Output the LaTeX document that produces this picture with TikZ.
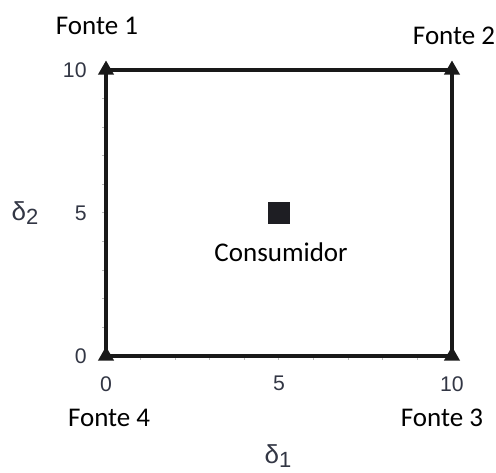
\documentclass[tikz,border=0pt]{standalone}
\usepackage{fontspec}
\usepackage{tikz}
\usetikzlibrary{arrows.meta,positioning,shapes.geometric}
\usepackage{xcolor}
\newfontfamily\labfont{Carlito}
\newfontfamily\numfont{Liberation Sans}
\definecolor{ticklab}{RGB}{50,54,68}
\definecolor{markfill}{RGB}{30,30,35}

\begin{document}
\begin{tikzpicture}[x=17.3pt,y=14.3pt,>=Stealth,
    axisline/.style={line width=1.6pt,black!90},
    tickmark/.style={gray!55,line width=0.5pt},
    cornermark/.style={regular polygon,regular polygon sides=3,fill=black!90,
      inner sep=0pt,minimum size=9.4pt},
    numlab/.style={font=\numfont\fontsize{10.6}{12}\selectfont,text=ticklab,inner sep=0pt},
    fontelab/.style={font=\labfont\fontsize{13.5}{16}\selectfont},
    deltalab/.style={font=\numfont\fontsize{13}{15}\selectfont,text=ticklab}]
  \useasboundingbox (-3.064,-4.091) rectangle (11.272,12.448);

  % corners of the square
  \coordinate (bl) at (0,0);
  \coordinate (tl) at (0,10);
  \coordinate (tr) at (10,10);
  \coordinate (br) at (10,0);

  \foreach \k in {1,...,9} {
    \draw[tickmark] (-0.12,\k) -- (0,\k);
    \draw[tickmark] (\k,-0.14) -- (\k,0);
  }
  \draw[axisline] (bl) -- (tl) -- (tr) -- (br) -- cycle;

  \node[cornermark] (m1) at (tl) {};
  \node[cornermark] (m2) at (tr) {};
  \node[cornermark] (m3) at (br) {};
  \node[cornermark] (m4) at (bl) {};

  % tick labels
  \foreach \v in {0,5,10} {
    \node[numlab,anchor=east] (y\v) at (-0.55,\v) {\v};
    \node[numlab,anchor=north] (x\v) at (\v,-0.7) {\v};
  }
  \node[deltalab] (d2) at (-2.34,5) {δ\raisebox{-0.35ex}{\fontsize{11}{13}\selectfont 2}};
  \node[deltalab] (d1) at (4.97,-3.5) {δ\raisebox{-0.35ex}{\fontsize{11}{13}\selectfont 1}};

  % sources and consumer
  \node[fontelab] (f1) at (-0.26,11.54) {Fonte 1};
  \node[fontelab] (f2) at (10.06,11.19) {Fonte 2};
  \node[fontelab] (f3) at (9.71,-2.17) {Fonte 3};
  \node[fontelab] (f4) at (0.09,-2.17) {Fonte 4};

  \node[fill=markfill,inner sep=0pt,minimum size=11pt] (cons) at (5,5) {};
  \node[fontelab] (conslab) at (5.06,3.64) {Consumidor};
\end{tikzpicture}
\end{document}
